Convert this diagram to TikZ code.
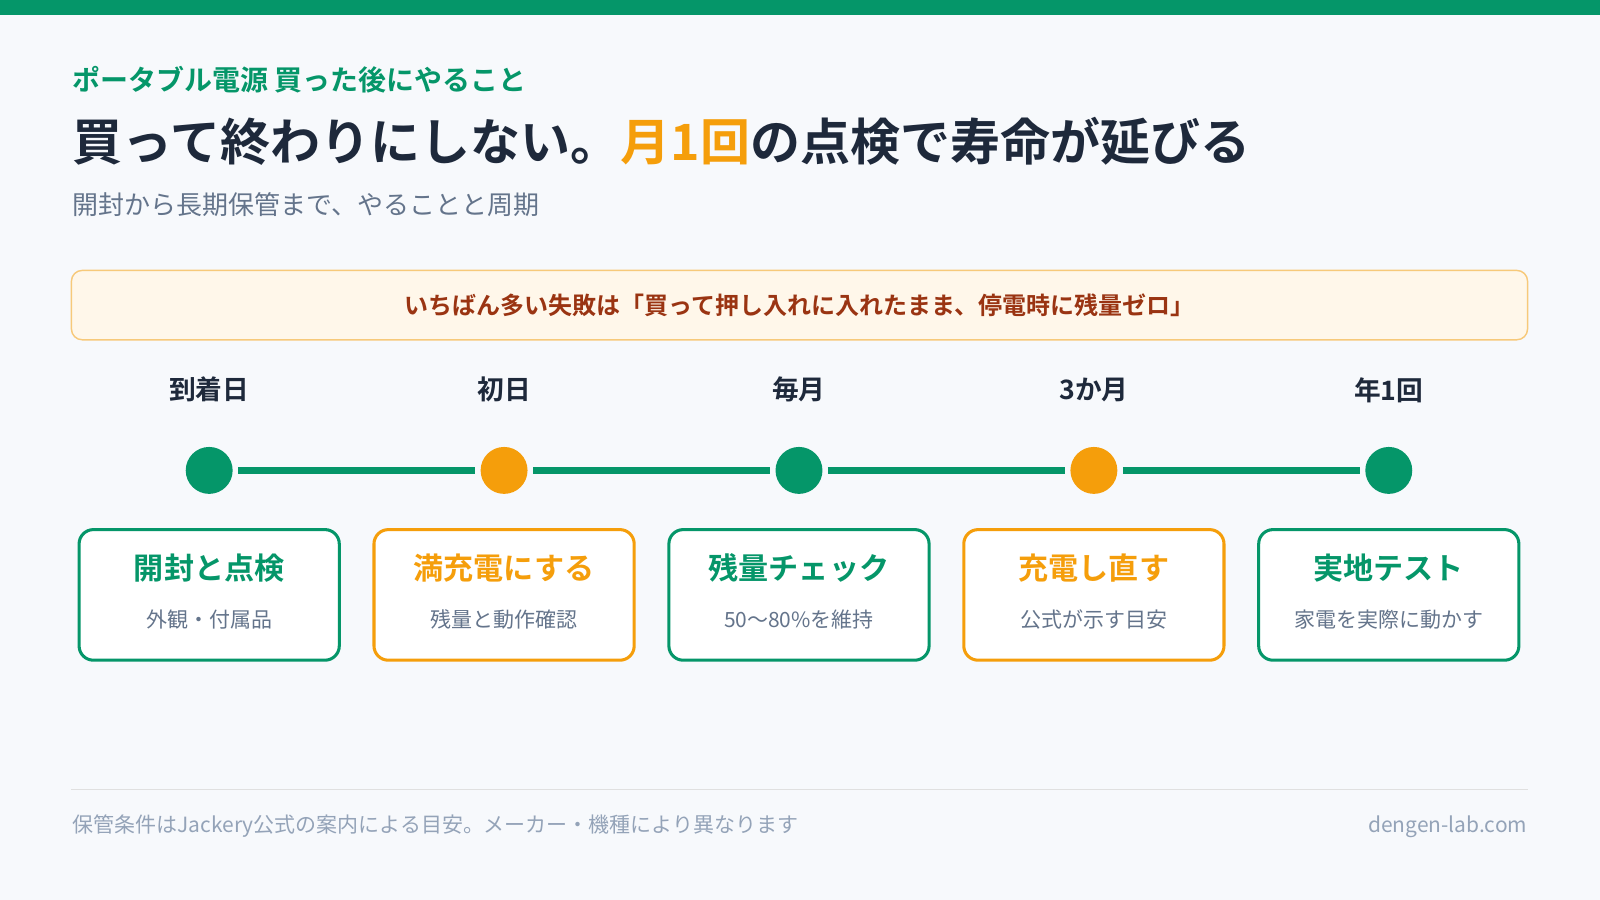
\documentclass[tikz,border=0pt]{standalone}
\usepackage{fontspec}
\setmainfont{Noto Sans CJK JP}[BoldFont={Noto Sans CJK JP Bold}]
\definecolor{grn}{HTML}{059669}
\definecolor{org}{HTML}{F59E0B}
\definecolor{bg}{HTML}{F7F9FC}
\definecolor{dark}{HTML}{1E293B}
\definecolor{gry}{HTML}{64748B}
\definecolor{lgry}{HTML}{94A3B8}
\definecolor{warnf}{HTML}{FFF7EA}
\definecolor{warnb}{HTML}{F7C97A}
\definecolor{warnt}{HTML}{9A3412}
\begin{document}
\begin{tikzpicture}[x=0.02cm,y=-0.02cm,
  txt/.style={inner sep=0pt},
  lab/.style={txt,font=\fontsize{14.9pt}{16pt}\selectfont\bfseries,text=dark},
  box/.style={draw,line width=1.7pt,rounded corners=8pt,fill=white,minimum width=255*0.02cm,minimum height=128*0.02cm,inner sep=0pt},
  btitle/.style={txt,font=\fontsize{16.8pt}{18pt}\selectfont\bfseries},
  bsub/.style={txt,font=\fontsize{11.7pt}{14pt}\selectfont,text=gry}]
\fill[bg] (0,0) rectangle (1568,882);
\useasboundingbox (0,0) rectangle (1568,882);
\fill[grn] (0,0) rectangle (1568,15);
\node[txt,anchor=west,text=grn,font=\fontsize{15.6pt}{17pt}\selectfont\bfseries] (sub) at (71,78) {ポータブル電源 買った後にやること};
\node[txt,anchor=west,text=dark,font=\fontsize{27.9pt}{31pt}\selectfont\bfseries] (title) at (71,138) {買って終わりにしない。\textcolor{org}{月1回}の点検で寿命が延びる};
\node[txt,anchor=west,text=gry,font=\fontsize{14.5pt}{16pt}\selectfont] (lead) at (71,201) {開封から長期保管まで、やることと周期};
\node[draw=warnb,fill=warnf,line width=0.8pt,rounded corners=6pt,minimum width=1427*0.02cm,minimum height=68*0.02cm,inner sep=0pt,text=warnt,font=\fontsize{13.4pt}{15pt}\selectfont\bfseries] (warn) at (783.5,299) {いちばん多い失敗は「買って押し入れに入れたまま、停電時に残量ゼロ」};
\foreach \i/\x/\c/\l/\t/\s in {1/205/grn/到着日/開封と点検/外観・付属品, 2/494/org/初日/満充電にする/残量と動作確認, 3/783/grn/毎月/残量チェック/50〜80\%を維持, 4/1072/org/3か月/充電し直す/公式が示す目安, 5/1361/grn/年1回/実地テスト/家電を実際に動かす}{
  \node[lab] (l\i) at (\x,382) {\l};
  \node[circle,fill=\c,minimum size=46*0.02cm,inner sep=0pt] (d\i) at (\x,461) {};
  \node[box,draw=\c] (b\i) at (\x,583) {};
  \node[btitle,text=\c] (t\i) at (\x,557) {\t};
  \node[bsub] (s\i) at (\x,607) {\s};
}
\foreach \a/\b in {1/2,2/3,3/4,4/5}
  \draw[grn,line width=4pt,shorten <=5*0.02cm,shorten >=5*0.02cm] (d\a) -- (d\b);
\draw[black!12,line width=0.6pt] (70,774) -- (1497,774);
\node[txt,anchor=west,text=lgry,font=\fontsize{11.7pt}{13pt}\selectfont] (foot) at (71,810) {保管条件はJackery公式の案内による目安。メーカー・機種により異なります};
\node[txt,anchor=east,text=lgry,font=\fontsize{11.7pt}{13pt}\selectfont] (site) at (1497,810) {dengen-lab.com};
\end{tikzpicture}
\end{document}
